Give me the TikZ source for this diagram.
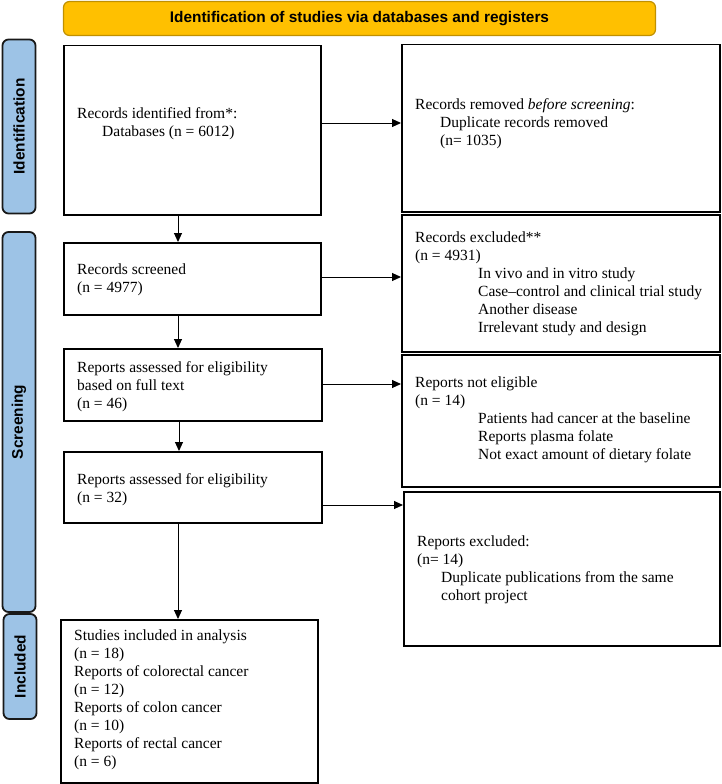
\documentclass[tikz,border=0pt]{standalone}
\usepackage{fontspec}
\setmainfont{Liberation Serif}
\setsansfont{Liberation Sans}
\usetikzlibrary{arrows.meta}
\definecolor{bannerfill}{HTML}{FFC000}
\definecolor{bannerline}{HTML}{C09000}
\definecolor{stagefill}{HTML}{9DC3E6}
\tikzset{
  box/.style={draw, line width=1.5pt, anchor=north west, inner sep=0pt},
  txt/.style={anchor=north west, inner sep=0pt, align=left, font=\fontsize{15.5}{18}\selectfont},
  stage/.style={draw=black!90, line width=1.8pt, fill=stagefill, rounded corners=6pt, rotate=90, minimum height=33pt, inner sep=0pt, font=\fontsize{15.4}{18}\sffamily\bfseries},
  arr/.style={-{Triangle[length=9pt,width=8pt]}, line width=1pt}
}

\begin{document}
\begin{tikzpicture}[x=1pt,y=-1pt]
   \useasboundingbox (0,0) rectangle (721,784);
   % heading
   \node[draw=bannerline, line width=1.2pt, fill=bannerfill, rounded corners=6pt, minimum width=592pt, minimum height=34pt, font=\fontsize{15.4}{18}\sffamily\bfseries] (head) at (359.5,18.5) {Identification of studies via databases and registers};
   % stages
   \node[stage, minimum width=174pt] (idlab) at (19,126.5) {Identification};
   \node[stage, minimum width=380pt] (scrlab) at (19,422) {Screening};
   \node[stage, minimum width=105pt] (inclab) at (20,666.5) {Included};
   % boxes
   \node[box, minimum width=257pt, minimum height=169pt] (idbox) at (63,45) {};
   \node[box, minimum width=318pt, minimum height=167pt] (rembox) at (401,44) {};
   \node[box, minimum width=257pt, minimum height=72pt] (scrbox) at (63,242) {};
   \node[box, minimum width=318pt, minimum height=137pt] (excbox) at (401,214) {};
   \node[box, minimum width=258pt, minimum height=72pt] (fullbox) at (63,348) {};
   \node[box, minimum width=318pt, minimum height=132pt] (nelbox) at (401,354) {};
   \node[box, minimum width=258pt, minimum height=71pt] (assbox) at (63,451) {};
   \node[box, minimum width=316pt, minimum height=154pt] (rexbox) at (403,491) {};
   \node[box, minimum width=257pt, minimum height=163pt] (incbox) at (60,619) {};
   % texts
   \node[txt] (idtxt) at (77,107) {Records identified from*:\\\hspace*{25pt}Databases (n = 6012)};
   \node[txt] (remtxt) at (415,98) {Records removed \textit{before screening}:\\\hspace*{25pt}Duplicate records removed\\\hspace*{25pt}(n= 1035)};
   \node[txt] (scrtxt) at (77,264) {Records screened\\(n = 4977)};
   \node[txt] (exctxt) at (415,232) {Records excluded**\\(n = 4931)\\\hspace*{63pt}In vivo and in vitro study\\\hspace*{63pt}Case--control and clinical trial study\\\hspace*{63pt}Another disease\\\hspace*{63pt}Irrelevant study and design};
   \node[txt] (fulltxt) at (77,361) {Reports assessed for eligibility\\based on full text\\(n = 46)};
   \node[txt] (neltxt) at (415,377) {Reports not eligible\\(n = 14)\\\hspace*{63pt}Patients had cancer at the baseline\\\hspace*{63pt}Reports plasma folate\\\hspace*{63pt}Not exact amount of dietary folate};
   \node[txt] (asstxt) at (77,473) {Reports assessed for eligibility\\(n = 32)};
   \node[txt] (rextxt) at (417,536) {Reports excluded:\\(n= 14)\\\hspace*{24pt}Duplicate publications from the same\\\hspace*{24pt}cohort project};
   \node[txt] (inctxt) at (74,630) {Studies included in analysis\\(n = 18)\\Reports of colorectal cancer\\(n = 12)\\Reports of colon cancer\\(n = 10)\\Reports of rectal cancer\\(n = 6)};
   % arrows down
   \draw[arr] (idbox.south -| 178,0) -- (scrbox.north -| 178,0);
   \draw[arr] (scrbox.south -| 178,0) -- (fullbox.north -| 178,0);
   \draw[arr] (fullbox.south -| 179,0) -- (assbox.north -| 179,0);
   \draw[arr] (assbox.south -| 178,0) -- (incbox.north -| 178,0);
   % arrows right
   \draw[arr] (idbox.east |- 0,123) -- (rembox.west |- 0,123);
   \draw[arr] (scrbox.east |- 0,277) -- (excbox.west |- 0,277);
   \draw[arr] (fullbox.east |- 0,384) -- (nelbox.west |- 0,384);
   \draw[arr] (assbox.east |- 0,505) -- (rexbox.west |- 0,505);
\end{tikzpicture}
\end{document}
